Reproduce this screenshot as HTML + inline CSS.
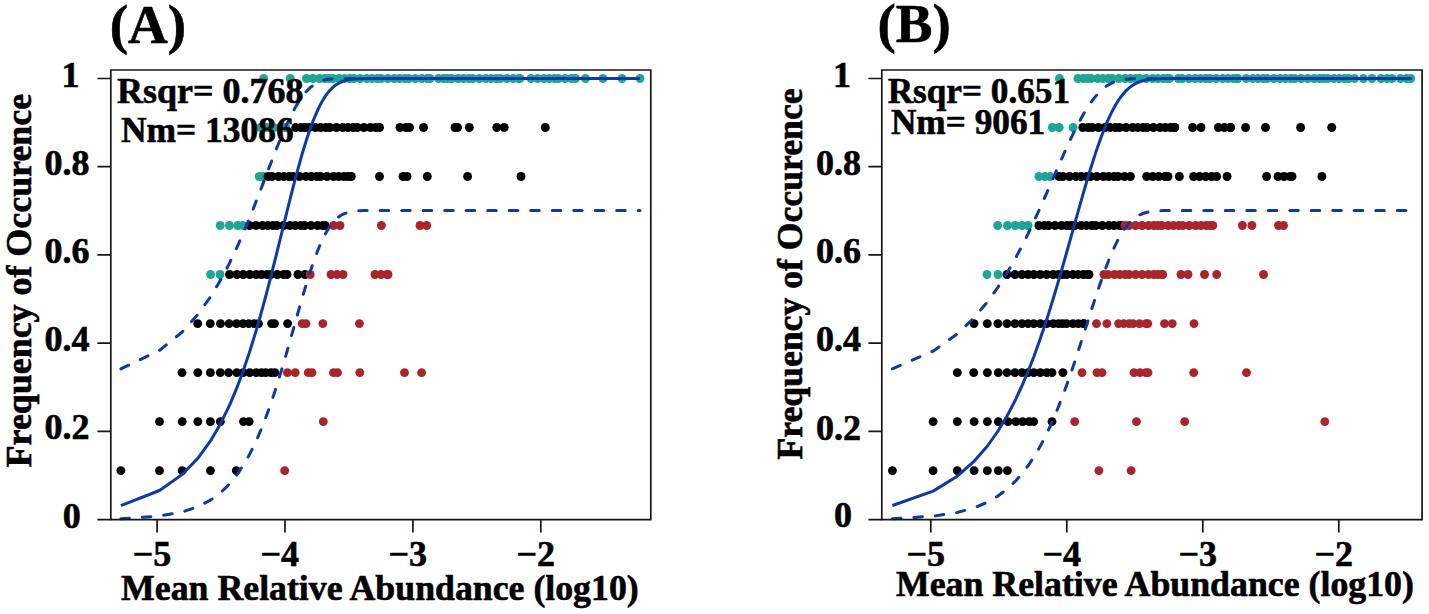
<!DOCTYPE html>
<html><head><meta charset="utf-8"><style>
html,body{margin:0;padding:0;background:#fff;overflow:hidden}
svg{display:block}
</style></head><body>
<svg width="1429" height="614" viewBox="0 0 1429 614">
<rect width="1429" height="614" fill="#fff"/>
<g fill="#1fa596"><circle cx="263.6" cy="78.5" r="4.45"/><circle cx="290.2" cy="78.5" r="4.45"/><circle cx="306.5" cy="78.5" r="4.45"/><circle cx="313.0" cy="78.5" r="4.45"/><circle cx="319.5" cy="78.5" r="4.45"/><circle cx="324.8" cy="78.5" r="4.45"/><circle cx="328.8" cy="78.5" r="4.45"/><circle cx="332.8" cy="78.5" r="4.45"/><circle cx="339.2" cy="78.5" r="4.45"/><circle cx="344.5" cy="78.5" r="4.45"/><circle cx="349.8" cy="78.5" r="4.45"/><circle cx="353.8" cy="78.5" r="4.45"/><circle cx="360.2" cy="78.5" r="4.45"/><circle cx="366.8" cy="78.5" r="4.45"/><circle cx="372.0" cy="78.5" r="4.45"/><circle cx="377.2" cy="78.5" r="4.45"/><circle cx="381.2" cy="78.5" r="4.45"/><circle cx="387.8" cy="78.5" r="4.45"/><circle cx="394.2" cy="78.5" r="4.45"/><circle cx="399.5" cy="78.5" r="4.45"/><circle cx="404.8" cy="78.5" r="4.45"/><circle cx="408.8" cy="78.5" r="4.45"/><circle cx="415.2" cy="78.5" r="4.45"/><circle cx="421.8" cy="78.5" r="4.45"/><circle cx="427.0" cy="78.5" r="4.45"/><circle cx="430.0" cy="78.5" r="4.45"/><circle cx="438.5" cy="78.5" r="4.45"/><circle cx="443.8" cy="78.5" r="4.45"/><circle cx="447.8" cy="78.5" r="4.45"/><circle cx="451.8" cy="78.5" r="4.45"/><circle cx="458.2" cy="78.5" r="4.45"/><circle cx="463.5" cy="78.5" r="4.45"/><circle cx="468.8" cy="78.5" r="4.45"/><circle cx="472.8" cy="78.5" r="4.45"/><circle cx="479.2" cy="78.5" r="4.45"/><circle cx="485.8" cy="78.5" r="4.45"/><circle cx="491.0" cy="78.5" r="4.45"/><circle cx="496.2" cy="78.5" r="4.45"/><circle cx="500.2" cy="78.5" r="4.45"/><circle cx="506.8" cy="78.5" r="4.45"/><circle cx="513.2" cy="78.5" r="4.45"/><circle cx="518.5" cy="78.5" r="4.45"/><circle cx="520.0" cy="78.5" r="4.45"/><circle cx="531.0" cy="78.5" r="4.45"/><circle cx="537.5" cy="78.5" r="4.45"/><circle cx="544.0" cy="78.5" r="4.45"/><circle cx="549.2" cy="78.5" r="4.45"/><circle cx="554.5" cy="78.5" r="4.45"/><circle cx="558.5" cy="78.5" r="4.45"/><circle cx="565.0" cy="78.5" r="4.45"/><circle cx="571.5" cy="78.5" r="4.45"/><circle cx="575.5" cy="78.5" r="4.45"/><circle cx="585.5" cy="78.5" r="4.45"/><circle cx="603.0" cy="78.5" r="4.45"/><circle cx="622.0" cy="78.5" r="4.45"/><circle cx="640.0" cy="78.5" r="4.45"/><circle cx="260.6" cy="127.5" r="4.45"/><circle cx="267.1" cy="127.5" r="4.45"/><circle cx="273.6" cy="127.5" r="4.45"/><circle cx="280.1" cy="127.5" r="4.45"/><circle cx="285.4" cy="127.5" r="4.45"/><circle cx="285.8" cy="127.5" r="4.45"/><circle cx="259.2" cy="176.5" r="4.45"/><circle cx="263.0" cy="176.5" r="4.45"/><circle cx="220.2" cy="225.5" r="4.45"/><circle cx="229.4" cy="225.5" r="4.45"/><circle cx="237.8" cy="225.5" r="4.45"/><circle cx="242.8" cy="225.5" r="4.45"/><circle cx="210.6" cy="274.5" r="4.45"/><circle cx="220.0" cy="274.5" r="4.45"/></g>
<g fill="#000000"><circle cx="295.7" cy="127.5" r="4.45"/><circle cx="300.9" cy="127.5" r="4.45"/><circle cx="304.9" cy="127.5" r="4.45"/><circle cx="308.9" cy="127.5" r="4.45"/><circle cx="315.4" cy="127.5" r="4.45"/><circle cx="320.7" cy="127.5" r="4.45"/><circle cx="325.9" cy="127.5" r="4.45"/><circle cx="329.9" cy="127.5" r="4.45"/><circle cx="336.4" cy="127.5" r="4.45"/><circle cx="342.9" cy="127.5" r="4.45"/><circle cx="348.2" cy="127.5" r="4.45"/><circle cx="353.4" cy="127.5" r="4.45"/><circle cx="357.4" cy="127.5" r="4.45"/><circle cx="363.9" cy="127.5" r="4.45"/><circle cx="370.4" cy="127.5" r="4.45"/><circle cx="375.7" cy="127.5" r="4.45"/><circle cx="379.5" cy="127.5" r="4.45"/><circle cx="400.0" cy="127.5" r="4.45"/><circle cx="406.0" cy="127.5" r="4.45"/><circle cx="409.5" cy="127.5" r="4.45"/><circle cx="423.5" cy="127.5" r="4.45"/><circle cx="455.0" cy="127.5" r="4.45"/><circle cx="457.5" cy="127.5" r="4.45"/><circle cx="469.3" cy="127.5" r="4.45"/><circle cx="496.8" cy="127.5" r="4.45"/><circle cx="504.2" cy="127.5" r="4.45"/><circle cx="545.3" cy="127.5" r="4.45"/><circle cx="268.0" cy="176.5" r="4.45"/><circle cx="272.0" cy="176.5" r="4.45"/><circle cx="278.5" cy="176.5" r="4.45"/><circle cx="283.8" cy="176.5" r="4.45"/><circle cx="289.0" cy="176.5" r="4.45"/><circle cx="293.0" cy="176.5" r="4.45"/><circle cx="299.5" cy="176.5" r="4.45"/><circle cx="306.0" cy="176.5" r="4.45"/><circle cx="311.2" cy="176.5" r="4.45"/><circle cx="316.5" cy="176.5" r="4.45"/><circle cx="320.5" cy="176.5" r="4.45"/><circle cx="327.0" cy="176.5" r="4.45"/><circle cx="333.5" cy="176.5" r="4.45"/><circle cx="338.8" cy="176.5" r="4.45"/><circle cx="344.0" cy="176.5" r="4.45"/><circle cx="348.0" cy="176.5" r="4.45"/><circle cx="351.3" cy="176.5" r="4.45"/><circle cx="379.5" cy="176.5" r="4.45"/><circle cx="403.0" cy="176.5" r="4.45"/><circle cx="407.0" cy="176.5" r="4.45"/><circle cx="427.3" cy="176.5" r="4.45"/><circle cx="467.6" cy="176.5" r="4.45"/><circle cx="521.0" cy="176.5" r="4.45"/><circle cx="249.5" cy="225.5" r="4.45"/><circle cx="256.0" cy="225.5" r="4.45"/><circle cx="262.5" cy="225.5" r="4.45"/><circle cx="267.8" cy="225.5" r="4.45"/><circle cx="273.0" cy="225.5" r="4.45"/><circle cx="277.0" cy="225.5" r="4.45"/><circle cx="283.5" cy="225.5" r="4.45"/><circle cx="290.0" cy="225.5" r="4.45"/><circle cx="295.2" cy="225.5" r="4.45"/><circle cx="300.5" cy="225.5" r="4.45"/><circle cx="304.5" cy="225.5" r="4.45"/><circle cx="311.0" cy="225.5" r="4.45"/><circle cx="317.5" cy="225.5" r="4.45"/><circle cx="322.8" cy="225.5" r="4.45"/><circle cx="325.0" cy="225.5" r="4.45"/><circle cx="229.5" cy="274.5" r="4.45"/><circle cx="236.9" cy="274.5" r="4.45"/><circle cx="243.3" cy="274.5" r="4.45"/><circle cx="249.8" cy="274.5" r="4.45"/><circle cx="256.3" cy="274.5" r="4.45"/><circle cx="261.6" cy="274.5" r="4.45"/><circle cx="266.8" cy="274.5" r="4.45"/><circle cx="270.8" cy="274.5" r="4.45"/><circle cx="277.3" cy="274.5" r="4.45"/><circle cx="283.8" cy="274.5" r="4.45"/><circle cx="287.0" cy="274.5" r="4.45"/><circle cx="298.0" cy="274.5" r="4.45"/><circle cx="305.0" cy="274.5" r="4.45"/><circle cx="197.7" cy="323.6" r="4.45"/><circle cx="210.3" cy="323.6" r="4.45"/><circle cx="220.5" cy="323.6" r="4.45"/><circle cx="229.1" cy="323.6" r="4.45"/><circle cx="236.5" cy="323.6" r="4.45"/><circle cx="243.0" cy="323.6" r="4.45"/><circle cx="248.8" cy="323.6" r="4.45"/><circle cx="254.1" cy="323.6" r="4.45"/><circle cx="258.5" cy="323.6" r="4.45"/><circle cx="271.6" cy="323.6" r="4.45"/><circle cx="274.5" cy="323.6" r="4.45"/><circle cx="287.6" cy="323.6" r="4.45"/><circle cx="182.0" cy="372.6" r="4.45"/><circle cx="197.8" cy="372.6" r="4.45"/><circle cx="210.4" cy="372.6" r="4.45"/><circle cx="220.3" cy="372.6" r="4.45"/><circle cx="228.6" cy="372.6" r="4.45"/><circle cx="236.8" cy="372.6" r="4.45"/><circle cx="243.3" cy="372.6" r="4.45"/><circle cx="249.8" cy="372.6" r="4.45"/><circle cx="256.3" cy="372.6" r="4.45"/><circle cx="261.5" cy="372.6" r="4.45"/><circle cx="265.8" cy="372.6" r="4.45"/><circle cx="271.0" cy="372.6" r="4.45"/><circle cx="274.8" cy="372.6" r="4.45"/><circle cx="159.5" cy="421.6" r="4.45"/><circle cx="182.2" cy="421.6" r="4.45"/><circle cx="197.8" cy="421.6" r="4.45"/><circle cx="210.4" cy="421.6" r="4.45"/><circle cx="220.3" cy="421.6" r="4.45"/><circle cx="243.5" cy="421.6" r="4.45"/><circle cx="249.1" cy="421.6" r="4.45"/><circle cx="120.9" cy="470.6" r="4.45"/><circle cx="159.5" cy="470.6" r="4.45"/><circle cx="182.2" cy="470.6" r="4.45"/><circle cx="210.4" cy="470.6" r="4.45"/><circle cx="236.3" cy="470.6" r="4.45"/></g>
<g fill="#a8252b"><circle cx="333.5" cy="225.5" r="4.45"/><circle cx="340.0" cy="225.5" r="4.45"/><circle cx="381.4" cy="225.5" r="4.45"/><circle cx="420.0" cy="225.5" r="4.45"/><circle cx="426.7" cy="225.5" r="4.45"/><circle cx="310.2" cy="274.5" r="4.45"/><circle cx="331.0" cy="274.5" r="4.45"/><circle cx="337.0" cy="274.5" r="4.45"/><circle cx="343.0" cy="274.5" r="4.45"/><circle cx="375.0" cy="274.5" r="4.45"/><circle cx="381.0" cy="274.5" r="4.45"/><circle cx="387.0" cy="274.5" r="4.45"/><circle cx="388.0" cy="274.5" r="4.45"/><circle cx="302.2" cy="323.6" r="4.45"/><circle cx="306.0" cy="323.6" r="4.45"/><circle cx="322.8" cy="323.6" r="4.45"/><circle cx="359.4" cy="323.6" r="4.45"/><circle cx="287.4" cy="372.6" r="4.45"/><circle cx="295.2" cy="372.6" r="4.45"/><circle cx="308.3" cy="372.6" r="4.45"/><circle cx="312.0" cy="372.6" r="4.45"/><circle cx="333.5" cy="372.6" r="4.45"/><circle cx="337.5" cy="372.6" r="4.45"/><circle cx="359.8" cy="372.6" r="4.45"/><circle cx="404.5" cy="372.6" r="4.45"/><circle cx="421.6" cy="372.6" r="4.45"/><circle cx="323.3" cy="421.6" r="4.45"/><circle cx="284.7" cy="470.6" r="4.45"/></g>
<path d="M120.9,505.6 L159.5,490.5 L182.0,474.6 L182.2,474.5 L197.7,458.4 L197.8,458.3 L210.3,441.2 L210.4,441.0 L210.6,440.7 L220.0,424.7 L220.2,424.3 L220.3,424.1 L220.5,423.7 L228.6,407.2 L229.1,406.1 L229.4,405.5 L229.5,405.3 L236.3,389.1 L236.5,388.6 L236.8,387.9 L236.9,387.6 L237.8,385.3 L242.8,371.9 L243.0,371.3 L243.3,370.5 L243.5,369.9 L248.8,354.3 L249.1,353.4 L249.5,352.1 L249.8,351.2 L254.1,337.4 L256.0,331.1 L256.3,330.1 L258.5,322.5 L259.2,320.0 L260.6,315.1 L261.5,311.8 L261.6,311.5 L262.5,308.2 L263.0,306.4 L263.6,304.2 L265.8,296.0 L266.8,292.2 L267.1,291.0 L267.8,288.4 L268.0,287.6 L270.8,276.8 L271.0,276.0 L271.6,273.6 L272.0,272.0 L273.0,268.1 L273.6,265.7 L274.5,262.1 L274.8,260.9 L277.0,252.1 L277.3,250.9 L278.5,246.0 L280.1,239.5 L283.5,225.7 L283.8,224.4 L284.7,220.8 L285.4,218.0 L285.8,216.3 L287.0,211.5 L287.4,209.9 L287.6,209.1 L289.0,203.5 L290.0,199.5 L290.2,198.7 L293.0,187.7 L295.2,179.2 L295.7,177.3 L298.0,168.8 L299.5,163.3 L300.5,159.8 L300.9,158.4 L302.2,153.9 L304.5,146.2 L304.9,144.9 L305.0,144.6 L306.0,141.4 L306.5,139.8 L308.3,134.3 L308.9,132.6 L310.2,128.8 L311.0,126.6 L311.2,126.0 L312.0,123.9 L313.0,121.3 L315.4,115.3 L316.5,112.8 L317.5,110.5 L319.5,106.4 L320.5,104.4 L320.7,104.0 L322.8,100.3 L323.3,99.4 L324.8,97.1 L325.0,96.7 L325.9,95.4 L327.0,93.9 L328.8,91.6 L329.9,90.3 L331.0,89.2 L332.8,87.4 L333.5,86.8 L336.4,84.6 L337.0,84.2 L337.5,83.9 L338.8,83.1 L339.2,82.9 L340.0,82.5 L342.9,81.3 L343.0,81.2 L344.0,80.9 L344.5,80.7 L348.0,79.9 L348.2,79.8 L349.8,79.5 L351.3,79.3 L353.4,79.1 L353.8,79.0 L357.4,78.8 L359.4,78.7 L359.8,78.7 L360.2,78.7 L363.9,78.6 L366.8,78.5 L370.4,78.5 L372.0,78.5 L375.0,78.5 L375.7,78.5 L377.2,78.5 L379.5,78.5 L381.0,78.5 L381.2,78.5 L381.4,78.5 L387.0,78.5 L387.8,78.5 L388.0,78.5 L394.2,78.5 L399.5,78.5 L400.0,78.5 L403.0,78.5 L404.5,78.5 L404.8,78.5 L406.0,78.5 L407.0,78.5 L408.8,78.5 L409.5,78.5 L415.2,78.5 L420.0,78.5 L421.6,78.5 L421.8,78.5 L423.5,78.5 L426.7,78.5 L427.0,78.5 L427.3,78.5 L430.0,78.5 L438.5,78.5 L443.8,78.5 L447.8,78.5 L451.8,78.5 L455.0,78.5 L457.5,78.5 L458.2,78.5 L463.5,78.5 L467.6,78.5 L468.8,78.5 L469.3,78.5 L472.8,78.5 L479.2,78.5 L485.8,78.5 L491.0,78.5 L496.2,78.5 L496.8,78.5 L500.2,78.5 L504.2,78.5 L506.8,78.5 L513.2,78.5 L518.5,78.5 L520.0,78.5 L521.0,78.5 L531.0,78.5 L537.5,78.5 L544.0,78.5 L545.3,78.5 L549.2,78.5 L554.5,78.5 L558.5,78.5 L565.0,78.5 L571.5,78.5 L575.5,78.5 L585.5,78.5 L603.0,78.5 L622.0,78.5 L640.0,78.5" fill="none" stroke="#0d3aa6" stroke-width="3.0" stroke-linejoin="round"/>
<path d="M120.9,518.7 L159.5,516.1 L182.0,512.0 L182.2,512.0 L197.7,506.8 L197.8,506.8 L210.3,500.2 L210.4,500.2 L210.6,500.0 L220.0,493.1 L220.2,493.0 L220.3,492.9 L220.5,492.7 L228.6,484.9 L229.1,484.3 L229.4,484.0 L229.5,483.9 L236.3,475.6 L236.5,475.3 L236.8,474.9 L236.9,474.7 L237.8,473.5 L242.8,466.0 L243.0,465.7 L243.3,465.2 L243.5,464.9 L248.8,455.7 L249.1,455.2 L249.5,454.4 L249.8,453.8 L254.1,445.3 L256.0,441.2 L256.3,440.6 L258.5,435.6 L259.2,434.0 L260.6,430.7 L261.5,428.5 L261.6,428.2 L262.5,426.0 L263.0,424.8 L263.6,423.2 L265.8,417.5 L266.8,414.8 L267.1,414.0 L267.8,412.1 L268.0,411.5 L270.8,403.6 L271.0,403.0 L271.6,401.3 L272.0,400.1 L273.0,397.1 L273.6,395.3 L274.5,392.6 L274.8,391.7 L277.0,384.8 L277.3,383.9 L278.5,380.0 L280.1,374.8 L283.5,363.5 L283.8,362.5 L284.7,359.4 L285.4,357.0 L285.8,355.6 L287.0,351.5 L287.4,350.1 L287.6,349.4 L289.0,344.5 L290.0,340.9 L290.2,340.2 L293.0,330.3 L295.2,322.5 L295.7,320.7 L298.0,312.6 L299.5,307.3 L300.5,303.9 L300.9,302.5 L302.2,298.0 L304.5,290.2 L304.9,288.8 L305.0,288.5 L306.0,285.2 L306.5,283.5 L308.3,277.7 L308.9,275.8 L310.2,271.8 L311.0,269.4 L311.2,268.8 L312.0,266.4 L313.0,263.5 L315.4,256.7 L316.5,253.8 L317.5,251.2 L319.5,246.3 L320.5,243.9 L320.7,243.5 L322.8,238.9 L323.3,237.9 L324.8,234.9 L325.0,234.5 L325.9,232.9 L327.0,231.0 L328.8,228.0 L329.9,226.4 L331.0,224.9 L332.8,222.6 L333.5,221.8 L336.4,218.8 L337.0,218.3 L337.5,217.9 L338.8,216.8 L339.2,216.5 L340.0,216.0 L342.9,214.3 L343.0,214.3 L344.0,213.8 L344.5,213.6 L348.0,212.3 L348.2,212.3 L349.8,211.9 L351.3,211.6 L353.4,211.3 L353.8,211.2 L357.4,210.8 L359.4,210.7 L359.8,210.7 L360.2,210.7 L363.9,210.6 L366.8,210.5 L370.4,210.5 L372.0,210.5 L375.0,210.5 L375.7,210.5 L377.2,210.5 L379.5,210.5 L381.0,210.5 L381.2,210.5 L381.4,210.5 L387.0,210.5 L387.8,210.5 L388.0,210.5 L394.2,210.5 L399.5,210.5 L400.0,210.5 L403.0,210.5 L404.5,210.5 L404.8,210.5 L406.0,210.5 L407.0,210.5 L408.8,210.5 L409.5,210.5 L415.2,210.5 L420.0,210.5 L421.6,210.5 L421.8,210.5 L423.5,210.5 L426.7,210.5 L427.0,210.5 L427.3,210.5 L430.0,210.5 L438.5,210.5 L443.8,210.5 L447.8,210.5 L451.8,210.5 L455.0,210.5 L457.5,210.5 L458.2,210.5 L463.5,210.5 L467.6,210.5 L468.8,210.5 L469.3,210.5 L472.8,210.5 L479.2,210.5 L485.8,210.5 L491.0,210.5 L496.2,210.5 L496.8,210.5 L500.2,210.5 L504.2,210.5 L506.8,210.5 L513.2,210.5 L518.5,210.5 L520.0,210.5 L521.0,210.5 L531.0,210.5 L537.5,210.5 L544.0,210.5 L545.3,210.5 L549.2,210.5 L554.5,210.5 L558.5,210.5 L565.0,210.5 L571.5,210.5 L575.5,210.5 L585.5,210.5 L603.0,210.5 L622.0,210.5 L640.0,210.5" fill="none" stroke="#0d3aa6" stroke-width="3.0" stroke-dasharray="8.5 13" stroke-linecap="round"/>
<path d="M120.9,368.9 L159.5,350.4 L182.0,332.2 L182.2,332.0 L197.7,314.7 L197.8,314.6 L210.3,297.1 L210.4,296.9 L210.6,296.6 L220.0,281.1 L220.2,280.7 L220.3,280.5 L220.5,280.2 L228.6,264.9 L229.1,263.9 L229.4,263.3 L229.5,263.1 L236.3,248.8 L236.5,248.4 L236.8,247.7 L236.9,247.5 L237.8,245.5 L242.8,234.2 L243.0,233.7 L243.3,233.0 L243.5,232.5 L248.8,219.8 L249.1,219.1 L249.5,218.1 L249.8,217.4 L254.1,206.6 L256.0,201.8 L256.3,201.0 L258.5,195.3 L259.2,193.5 L260.6,189.9 L261.5,187.5 L261.6,187.3 L262.5,184.9 L263.0,183.6 L263.6,182.0 L265.8,176.3 L266.8,173.7 L267.1,172.9 L267.8,171.0 L268.0,170.5 L270.8,163.2 L271.0,162.7 L271.6,161.2 L272.0,160.1 L273.0,157.6 L273.6,156.0 L274.5,153.7 L274.8,153.0 L277.0,147.4 L277.3,146.7 L278.5,143.7 L280.1,139.8 L283.5,131.8 L283.8,131.1 L284.7,129.0 L285.4,127.4 L285.8,126.5 L287.0,123.9 L287.4,123.0 L287.6,122.6 L289.0,119.6 L290.0,117.6 L290.2,117.2 L293.0,111.7 L295.2,107.6 L295.7,106.8 L298.0,102.9 L299.5,100.5 L300.5,99.1 L300.9,98.5 L302.2,96.6 L304.5,93.7 L304.9,93.2 L305.0,93.1 L306.0,91.9 L306.5,91.3 L308.3,89.5 L308.9,88.9 L310.2,87.7 L311.0,87.0 L311.2,86.8 L312.0,86.2 L313.0,85.4 L315.4,83.8 L316.5,83.2 L317.5,82.7 L319.5,81.7 L320.5,81.3 L320.7,81.3 L322.8,80.6 L323.3,80.4 L324.8,80.0 L325.0,80.0 L325.9,79.8 L327.0,79.6 L328.8,79.3 L329.9,79.2 L331.0,79.0 L332.8,78.9 L333.5,78.8 L336.4,78.7 L337.0,78.7 L337.5,78.6 L338.8,78.6 L339.2,78.6 L340.0,78.6 L342.9,78.5 L343.0,78.5 L344.0,78.5 L344.5,78.5 L348.0,78.5 L348.2,78.5 L349.8,78.5 L351.3,78.5 L353.4,78.5 L353.8,78.5 L357.4,78.5 L359.4,78.5 L359.8,78.5 L360.2,78.5 L363.9,78.5 L366.8,78.5 L370.4,78.5 L372.0,78.5 L375.0,78.5 L375.7,78.5 L377.2,78.5 L379.5,78.5 L381.0,78.5 L381.2,78.5 L381.4,78.5 L387.0,78.5 L387.8,78.5 L388.0,78.5 L394.2,78.5 L399.5,78.5 L400.0,78.5 L403.0,78.5 L404.5,78.5 L404.8,78.5 L406.0,78.5 L407.0,78.5 L408.8,78.5 L409.5,78.5 L415.2,78.5 L420.0,78.5 L421.6,78.5 L421.8,78.5 L423.5,78.5 L426.7,78.5 L427.0,78.5 L427.3,78.5 L430.0,78.5 L438.5,78.5 L443.8,78.5 L447.8,78.5 L451.8,78.5 L455.0,78.5 L457.5,78.5 L458.2,78.5 L463.5,78.5 L467.6,78.5 L468.8,78.5 L469.3,78.5 L472.8,78.5 L479.2,78.5 L485.8,78.5 L491.0,78.5 L496.2,78.5 L496.8,78.5 L500.2,78.5 L504.2,78.5 L506.8,78.5 L513.2,78.5 L518.5,78.5 L520.0,78.5 L521.0,78.5 L531.0,78.5 L537.5,78.5 L544.0,78.5 L545.3,78.5 L549.2,78.5 L554.5,78.5 L558.5,78.5 L565.0,78.5 L571.5,78.5 L575.5,78.5 L585.5,78.5 L603.0,78.5 L622.0,78.5 L640.0,78.5" fill="none" stroke="#0d3aa6" stroke-width="3.0" stroke-dasharray="8.5 13" stroke-linecap="round"/>
<path d="M110.8,70 H650.8 V519.6 H110.8 Z" fill="none" stroke="#151515" stroke-width="1.7"/>
<path d="M97.39999999999999,519.6 H110.8 M97.39999999999999,431.4 H110.8 M97.39999999999999,343.2 H110.8 M97.39999999999999,254.9 H110.8 M97.39999999999999,166.7 H110.8 M97.39999999999999,78.5 H110.8 M157.1,519.6 V532.6 M285.0,519.6 V532.6 M412.9,519.6 V532.6 M540.8,519.6 V532.6 " stroke="#151515" stroke-width="1.7" fill="none"/>
<g fill="#1fa596"><circle cx="1059.4" cy="78.5" r="4.45"/><circle cx="1077.9" cy="78.5" r="4.45"/><circle cx="1083.2" cy="78.5" r="4.45"/><circle cx="1087.2" cy="78.5" r="4.45"/><circle cx="1091.2" cy="78.5" r="4.45"/><circle cx="1097.7" cy="78.5" r="4.45"/><circle cx="1102.9" cy="78.5" r="4.45"/><circle cx="1108.2" cy="78.5" r="4.45"/><circle cx="1112.2" cy="78.5" r="4.45"/><circle cx="1118.7" cy="78.5" r="4.45"/><circle cx="1125.2" cy="78.5" r="4.45"/><circle cx="1130.4" cy="78.5" r="4.45"/><circle cx="1135.7" cy="78.5" r="4.45"/><circle cx="1139.7" cy="78.5" r="4.45"/><circle cx="1146.2" cy="78.5" r="4.45"/><circle cx="1152.7" cy="78.5" r="4.45"/><circle cx="1157.9" cy="78.5" r="4.45"/><circle cx="1163.2" cy="78.5" r="4.45"/><circle cx="1167.2" cy="78.5" r="4.45"/><circle cx="1169.5" cy="78.5" r="4.45"/><circle cx="1178.3" cy="78.5" r="4.45"/><circle cx="1182.3" cy="78.5" r="4.45"/><circle cx="1188.8" cy="78.5" r="4.45"/><circle cx="1195.3" cy="78.5" r="4.45"/><circle cx="1200.5" cy="78.5" r="4.45"/><circle cx="1205.8" cy="78.5" r="4.45"/><circle cx="1209.8" cy="78.5" r="4.45"/><circle cx="1216.3" cy="78.5" r="4.45"/><circle cx="1222.8" cy="78.5" r="4.45"/><circle cx="1228.0" cy="78.5" r="4.45"/><circle cx="1233.3" cy="78.5" r="4.45"/><circle cx="1237.3" cy="78.5" r="4.45"/><circle cx="1237.5" cy="78.5" r="4.45"/><circle cx="1246.3" cy="78.5" r="4.45"/><circle cx="1252.8" cy="78.5" r="4.45"/><circle cx="1258.0" cy="78.5" r="4.45"/><circle cx="1263.3" cy="78.5" r="4.45"/><circle cx="1267.3" cy="78.5" r="4.45"/><circle cx="1273.8" cy="78.5" r="4.45"/><circle cx="1280.3" cy="78.5" r="4.45"/><circle cx="1285.5" cy="78.5" r="4.45"/><circle cx="1290.8" cy="78.5" r="4.45"/><circle cx="1294.8" cy="78.5" r="4.45"/><circle cx="1301.3" cy="78.5" r="4.45"/><circle cx="1307.8" cy="78.5" r="4.45"/><circle cx="1314.3" cy="78.5" r="4.45"/><circle cx="1319.5" cy="78.5" r="4.45"/><circle cx="1323.5" cy="78.5" r="4.45"/><circle cx="1327.5" cy="78.5" r="4.45"/><circle cx="1334.0" cy="78.5" r="4.45"/><circle cx="1339.3" cy="78.5" r="4.45"/><circle cx="1344.5" cy="78.5" r="4.45"/><circle cx="1348.5" cy="78.5" r="4.45"/><circle cx="1354.5" cy="78.5" r="4.45"/><circle cx="1363.5" cy="78.5" r="4.45"/><circle cx="1372.0" cy="78.5" r="4.45"/><circle cx="1381.0" cy="78.5" r="4.45"/><circle cx="1387.0" cy="78.5" r="4.45"/><circle cx="1392.0" cy="78.5" r="4.45"/><circle cx="1400.5" cy="78.5" r="4.45"/><circle cx="1406.5" cy="78.5" r="4.45"/><circle cx="1410.7" cy="78.5" r="4.45"/><circle cx="1052.4" cy="127.5" r="4.45"/><circle cx="1059.2" cy="127.5" r="4.45"/><circle cx="1073.1" cy="127.5" r="4.45"/><circle cx="1038.9" cy="176.5" r="4.45"/><circle cx="1044.9" cy="176.5" r="4.45"/><circle cx="1050.0" cy="176.5" r="4.45"/><circle cx="997.7" cy="225.5" r="4.45"/><circle cx="1007.4" cy="225.5" r="4.45"/><circle cx="1015.3" cy="225.5" r="4.45"/><circle cx="1022.2" cy="225.5" r="4.45"/><circle cx="1028.0" cy="225.5" r="4.45"/><circle cx="987.0" cy="274.5" r="4.45"/><circle cx="998.0" cy="274.5" r="4.45"/></g>
<g fill="#000000"><circle cx="1082.8" cy="127.5" r="4.45"/><circle cx="1088.0" cy="127.5" r="4.45"/><circle cx="1092.0" cy="127.5" r="4.45"/><circle cx="1098.5" cy="127.5" r="4.45"/><circle cx="1105.0" cy="127.5" r="4.45"/><circle cx="1110.3" cy="127.5" r="4.45"/><circle cx="1115.5" cy="127.5" r="4.45"/><circle cx="1119.5" cy="127.5" r="4.45"/><circle cx="1126.0" cy="127.5" r="4.45"/><circle cx="1132.5" cy="127.5" r="4.45"/><circle cx="1137.8" cy="127.5" r="4.45"/><circle cx="1143.0" cy="127.5" r="4.45"/><circle cx="1147.0" cy="127.5" r="4.45"/><circle cx="1153.5" cy="127.5" r="4.45"/><circle cx="1160.0" cy="127.5" r="4.45"/><circle cx="1165.3" cy="127.5" r="4.45"/><circle cx="1170.5" cy="127.5" r="4.45"/><circle cx="1174.5" cy="127.5" r="4.45"/><circle cx="1174.7" cy="127.5" r="4.45"/><circle cx="1192.6" cy="127.5" r="4.45"/><circle cx="1201.0" cy="127.5" r="4.45"/><circle cx="1218.4" cy="127.5" r="4.45"/><circle cx="1224.4" cy="127.5" r="4.45"/><circle cx="1230.4" cy="127.5" r="4.45"/><circle cx="1230.5" cy="127.5" r="4.45"/><circle cx="1245.6" cy="127.5" r="4.45"/><circle cx="1265.5" cy="127.5" r="4.45"/><circle cx="1300.6" cy="127.5" r="4.45"/><circle cx="1331.7" cy="127.5" r="4.45"/><circle cx="1058.9" cy="176.5" r="4.45"/><circle cx="1062.9" cy="176.5" r="4.45"/><circle cx="1069.4" cy="176.5" r="4.45"/><circle cx="1075.9" cy="176.5" r="4.45"/><circle cx="1081.2" cy="176.5" r="4.45"/><circle cx="1086.4" cy="176.5" r="4.45"/><circle cx="1090.4" cy="176.5" r="4.45"/><circle cx="1096.9" cy="176.5" r="4.45"/><circle cx="1103.4" cy="176.5" r="4.45"/><circle cx="1108.7" cy="176.5" r="4.45"/><circle cx="1113.9" cy="176.5" r="4.45"/><circle cx="1117.9" cy="176.5" r="4.45"/><circle cx="1124.4" cy="176.5" r="4.45"/><circle cx="1130.4" cy="176.5" r="4.45"/><circle cx="1146.7" cy="176.5" r="4.45"/><circle cx="1152.7" cy="176.5" r="4.45"/><circle cx="1158.7" cy="176.5" r="4.45"/><circle cx="1164.7" cy="176.5" r="4.45"/><circle cx="1168.0" cy="176.5" r="4.45"/><circle cx="1179.4" cy="176.5" r="4.45"/><circle cx="1193.6" cy="176.5" r="4.45"/><circle cx="1199.6" cy="176.5" r="4.45"/><circle cx="1205.6" cy="176.5" r="4.45"/><circle cx="1211.6" cy="176.5" r="4.45"/><circle cx="1216.6" cy="176.5" r="4.45"/><circle cx="1227.1" cy="176.5" r="4.45"/><circle cx="1266.6" cy="176.5" r="4.45"/><circle cx="1278.0" cy="176.5" r="4.45"/><circle cx="1284.0" cy="176.5" r="4.45"/><circle cx="1290.0" cy="176.5" r="4.45"/><circle cx="1292.0" cy="176.5" r="4.45"/><circle cx="1321.9" cy="176.5" r="4.45"/><circle cx="1038.9" cy="225.5" r="4.45"/><circle cx="1044.2" cy="225.5" r="4.45"/><circle cx="1048.5" cy="225.5" r="4.45"/><circle cx="1055.0" cy="225.5" r="4.45"/><circle cx="1061.5" cy="225.5" r="4.45"/><circle cx="1066.8" cy="225.5" r="4.45"/><circle cx="1070.8" cy="225.5" r="4.45"/><circle cx="1074.8" cy="225.5" r="4.45"/><circle cx="1081.3" cy="225.5" r="4.45"/><circle cx="1086.5" cy="225.5" r="4.45"/><circle cx="1091.8" cy="225.5" r="4.45"/><circle cx="1095.8" cy="225.5" r="4.45"/><circle cx="1102.3" cy="225.5" r="4.45"/><circle cx="1108.8" cy="225.5" r="4.45"/><circle cx="1114.0" cy="225.5" r="4.45"/><circle cx="1119.3" cy="225.5" r="4.45"/><circle cx="1121.0" cy="225.5" r="4.45"/><circle cx="1007.0" cy="274.5" r="4.45"/><circle cx="1014.9" cy="274.5" r="4.45"/><circle cx="1021.9" cy="274.5" r="4.45"/><circle cx="1028.1" cy="274.5" r="4.45"/><circle cx="1033.8" cy="274.5" r="4.45"/><circle cx="1040.3" cy="274.5" r="4.45"/><circle cx="1046.8" cy="274.5" r="4.45"/><circle cx="1053.3" cy="274.5" r="4.45"/><circle cx="1058.5" cy="274.5" r="4.45"/><circle cx="1062.5" cy="274.5" r="4.45"/><circle cx="1066.5" cy="274.5" r="4.45"/><circle cx="1073.0" cy="274.5" r="4.45"/><circle cx="1078.3" cy="274.5" r="4.45"/><circle cx="1083.5" cy="274.5" r="4.45"/><circle cx="1087.5" cy="274.5" r="4.45"/><circle cx="1089.0" cy="274.5" r="4.45"/><circle cx="974.0" cy="323.6" r="4.45"/><circle cx="987.3" cy="323.6" r="4.45"/><circle cx="997.9" cy="323.6" r="4.45"/><circle cx="1007.0" cy="323.6" r="4.45"/><circle cx="1014.9" cy="323.6" r="4.45"/><circle cx="1021.9" cy="323.6" r="4.45"/><circle cx="1028.1" cy="323.6" r="4.45"/><circle cx="1033.8" cy="323.6" r="4.45"/><circle cx="1040.3" cy="323.6" r="4.45"/><circle cx="1046.8" cy="323.6" r="4.45"/><circle cx="1053.3" cy="323.6" r="4.45"/><circle cx="1058.5" cy="323.6" r="4.45"/><circle cx="1062.5" cy="323.6" r="4.45"/><circle cx="1066.5" cy="323.6" r="4.45"/><circle cx="1073.0" cy="323.6" r="4.45"/><circle cx="1078.3" cy="323.6" r="4.45"/><circle cx="1083.5" cy="323.6" r="4.45"/><circle cx="1084.0" cy="323.6" r="4.45"/><circle cx="957.3" cy="372.6" r="4.45"/><circle cx="973.7" cy="372.6" r="4.45"/><circle cx="987.4" cy="372.6" r="4.45"/><circle cx="998.3" cy="372.6" r="4.45"/><circle cx="1007.0" cy="372.6" r="4.45"/><circle cx="1014.9" cy="372.6" r="4.45"/><circle cx="1021.9" cy="372.6" r="4.45"/><circle cx="1028.1" cy="372.6" r="4.45"/><circle cx="1033.8" cy="372.6" r="4.45"/><circle cx="1040.3" cy="372.6" r="4.45"/><circle cx="1046.8" cy="372.6" r="4.45"/><circle cx="1052.0" cy="372.6" r="4.45"/><circle cx="1062.9" cy="372.6" r="4.45"/><circle cx="933.1" cy="421.6" r="4.45"/><circle cx="957.3" cy="421.6" r="4.45"/><circle cx="974.1" cy="421.6" r="4.45"/><circle cx="987.4" cy="421.6" r="4.45"/><circle cx="998.3" cy="421.6" r="4.45"/><circle cx="1008.0" cy="421.6" r="4.45"/><circle cx="1015.8" cy="421.6" r="4.45"/><circle cx="1022.7" cy="421.6" r="4.45"/><circle cx="1029.2" cy="421.6" r="4.45"/><circle cx="1033.6" cy="421.6" r="4.45"/><circle cx="1052.0" cy="421.6" r="4.45"/><circle cx="892.4" cy="470.6" r="4.45"/><circle cx="933.1" cy="470.6" r="4.45"/><circle cx="957.3" cy="470.6" r="4.45"/><circle cx="974.1" cy="470.6" r="4.45"/><circle cx="987.4" cy="470.6" r="4.45"/><circle cx="998.3" cy="470.6" r="4.45"/><circle cx="1007.4" cy="470.6" r="4.45"/></g>
<g fill="#a8252b"><circle cx="1125.0" cy="225.5" r="4.45"/><circle cx="1129.0" cy="225.5" r="4.45"/><circle cx="1135.5" cy="225.5" r="4.45"/><circle cx="1142.0" cy="225.5" r="4.45"/><circle cx="1148.5" cy="225.5" r="4.45"/><circle cx="1153.8" cy="225.5" r="4.45"/><circle cx="1157.8" cy="225.5" r="4.45"/><circle cx="1161.8" cy="225.5" r="4.45"/><circle cx="1168.2" cy="225.5" r="4.45"/><circle cx="1173.5" cy="225.5" r="4.45"/><circle cx="1178.8" cy="225.5" r="4.45"/><circle cx="1182.8" cy="225.5" r="4.45"/><circle cx="1189.2" cy="225.5" r="4.45"/><circle cx="1195.8" cy="225.5" r="4.45"/><circle cx="1201.0" cy="225.5" r="4.45"/><circle cx="1206.2" cy="225.5" r="4.45"/><circle cx="1210.2" cy="225.5" r="4.45"/><circle cx="1212.8" cy="225.5" r="4.45"/><circle cx="1242.4" cy="225.5" r="4.45"/><circle cx="1251.9" cy="225.5" r="4.45"/><circle cx="1278.5" cy="225.5" r="4.45"/><circle cx="1283.5" cy="225.5" r="4.45"/><circle cx="1104.0" cy="274.5" r="4.45"/><circle cx="1108.0" cy="274.5" r="4.45"/><circle cx="1114.5" cy="274.5" r="4.45"/><circle cx="1119.8" cy="274.5" r="4.45"/><circle cx="1125.0" cy="274.5" r="4.45"/><circle cx="1129.0" cy="274.5" r="4.45"/><circle cx="1135.5" cy="274.5" r="4.45"/><circle cx="1142.0" cy="274.5" r="4.45"/><circle cx="1148.5" cy="274.5" r="4.45"/><circle cx="1153.8" cy="274.5" r="4.45"/><circle cx="1157.8" cy="274.5" r="4.45"/><circle cx="1161.8" cy="274.5" r="4.45"/><circle cx="1162.7" cy="274.5" r="4.45"/><circle cx="1181.0" cy="274.5" r="4.45"/><circle cx="1188.0" cy="274.5" r="4.45"/><circle cx="1204.5" cy="274.5" r="4.45"/><circle cx="1216.7" cy="274.5" r="4.45"/><circle cx="1263.5" cy="274.5" r="4.45"/><circle cx="1096.5" cy="323.6" r="4.45"/><circle cx="1106.9" cy="323.6" r="4.45"/><circle cx="1118.6" cy="323.6" r="4.45"/><circle cx="1123.8" cy="323.6" r="4.45"/><circle cx="1129.1" cy="323.6" r="4.45"/><circle cx="1133.1" cy="323.6" r="4.45"/><circle cx="1139.6" cy="323.6" r="4.45"/><circle cx="1146.1" cy="323.6" r="4.45"/><circle cx="1147.8" cy="323.6" r="4.45"/><circle cx="1164.5" cy="323.6" r="4.45"/><circle cx="1172.2" cy="323.6" r="4.45"/><circle cx="1194.0" cy="323.6" r="4.45"/><circle cx="1082.0" cy="372.6" r="4.45"/><circle cx="1097.0" cy="372.6" r="4.45"/><circle cx="1102.0" cy="372.6" r="4.45"/><circle cx="1134.0" cy="372.6" r="4.45"/><circle cx="1140.0" cy="372.6" r="4.45"/><circle cx="1146.0" cy="372.6" r="4.45"/><circle cx="1148.0" cy="372.6" r="4.45"/><circle cx="1193.7" cy="372.6" r="4.45"/><circle cx="1246.5" cy="372.6" r="4.45"/><circle cx="1074.7" cy="421.6" r="4.45"/><circle cx="1136.5" cy="421.6" r="4.45"/><circle cx="1184.7" cy="421.6" r="4.45"/><circle cx="1324.8" cy="421.6" r="4.45"/><circle cx="1098.9" cy="470.6" r="4.45"/><circle cx="1131.1" cy="470.6" r="4.45"/></g>
<path d="M892.4,505.5 L933.1,491.1 L957.3,476.2 L973.7,461.7 L974.0,461.4 L974.1,461.3 L987.0,446.5 L987.3,446.1 L987.4,446.0 L997.7,431.5 L997.9,431.2 L998.0,431.0 L998.3,430.6 L1007.0,416.0 L1007.4,415.3 L1008.0,414.2 L1014.9,401.0 L1015.3,400.1 L1015.8,399.1 L1021.9,386.0 L1022.2,385.3 L1022.7,384.1 L1028.0,371.6 L1028.1,371.3 L1029.2,368.6 L1033.6,357.2 L1033.8,356.7 L1038.9,342.6 L1040.3,338.6 L1044.2,327.1 L1044.9,325.0 L1046.8,319.2 L1048.5,313.9 L1050.0,309.1 L1052.0,302.6 L1052.4,301.3 L1053.3,298.4 L1055.0,292.8 L1058.5,280.9 L1058.9,279.6 L1059.2,278.5 L1059.4,277.9 L1061.5,270.6 L1062.5,267.1 L1062.9,265.7 L1066.5,253.0 L1066.8,252.0 L1069.4,242.7 L1070.8,237.7 L1073.0,229.8 L1073.1,229.4 L1074.7,223.7 L1074.8,223.3 L1075.9,219.4 L1077.9,212.3 L1078.3,210.8 L1081.2,200.6 L1081.3,200.2 L1082.0,197.8 L1082.8,195.0 L1083.2,193.6 L1083.5,192.6 L1084.0,190.8 L1086.4,182.6 L1086.5,182.3 L1087.2,179.9 L1087.5,178.9 L1088.0,177.2 L1089.0,173.9 L1090.4,169.3 L1091.2,166.8 L1091.8,164.8 L1092.0,164.2 L1095.8,152.4 L1096.5,150.3 L1096.9,149.2 L1097.0,148.9 L1097.7,146.8 L1098.5,144.5 L1098.9,143.4 L1102.0,134.8 L1102.3,134.1 L1102.9,132.5 L1103.4,131.2 L1104.0,129.7 L1105.0,127.2 L1106.9,122.6 L1108.0,120.1 L1108.2,119.6 L1108.7,118.5 L1108.8,118.3 L1110.3,115.1 L1112.2,111.2 L1113.9,108.0 L1114.0,107.8 L1114.5,106.9 L1115.5,105.1 L1117.9,101.2 L1118.6,100.1 L1118.7,100.0 L1119.3,99.1 L1119.5,98.8 L1119.8,98.4 L1121.0,96.7 L1123.8,93.2 L1124.4,92.5 L1125.0,91.9 L1125.2,91.6 L1126.0,90.8 L1129.0,88.0 L1129.1,87.9 L1130.4,86.9 L1131.1,86.3 L1132.5,85.4 L1133.1,85.0 L1134.0,84.4 L1135.5,83.6 L1135.7,83.5 L1136.5,83.1 L1137.8,82.5 L1139.6,81.8 L1139.7,81.7 L1140.0,81.6 L1142.0,81.0 L1143.0,80.7 L1146.0,80.0 L1146.1,80.0 L1146.2,79.9 L1146.7,79.8 L1147.0,79.8 L1147.8,79.7 L1148.0,79.6 L1148.5,79.6 L1152.7,79.1 L1153.5,79.0 L1153.8,79.0 L1157.8,78.7 L1157.9,78.7 L1158.7,78.7 L1160.0,78.7 L1161.8,78.6 L1162.7,78.6 L1163.2,78.6 L1164.5,78.6 L1164.7,78.6 L1165.3,78.6 L1167.2,78.5 L1168.0,78.5 L1168.2,78.5 L1169.5,78.5 L1170.5,78.5 L1172.2,78.5 L1173.5,78.5 L1174.5,78.5 L1174.7,78.5 L1178.3,78.5 L1178.8,78.5 L1179.4,78.5 L1181.0,78.5 L1182.3,78.5 L1182.8,78.5 L1184.7,78.5 L1188.0,78.5 L1188.8,78.5 L1189.2,78.5 L1192.6,78.5 L1193.6,78.5 L1193.7,78.5 L1194.0,78.5 L1195.3,78.5 L1195.8,78.5 L1199.6,78.5 L1200.5,78.5 L1201.0,78.5 L1204.5,78.5 L1205.6,78.5 L1205.8,78.5 L1206.2,78.5 L1209.8,78.5 L1210.2,78.5 L1211.6,78.5 L1212.8,78.5 L1216.3,78.5 L1216.6,78.5 L1216.7,78.5 L1218.4,78.5 L1222.8,78.5 L1224.4,78.5 L1227.1,78.5 L1228.0,78.5 L1230.4,78.5 L1230.5,78.5 L1233.3,78.5 L1237.3,78.5 L1237.5,78.5 L1242.4,78.5 L1245.6,78.5 L1246.3,78.5 L1246.5,78.5 L1251.9,78.5 L1252.8,78.5 L1258.0,78.5 L1263.3,78.5 L1263.5,78.5 L1265.5,78.5 L1266.6,78.5 L1267.3,78.5 L1273.8,78.5 L1278.0,78.5 L1278.5,78.5 L1280.3,78.5 L1283.5,78.5 L1284.0,78.5 L1285.5,78.5 L1290.0,78.5 L1290.8,78.5 L1292.0,78.5 L1294.8,78.5 L1300.6,78.5 L1301.3,78.5 L1307.8,78.5 L1314.3,78.5 L1319.5,78.5 L1321.9,78.5 L1323.5,78.5 L1324.8,78.5 L1327.5,78.5 L1331.7,78.5 L1334.0,78.5 L1339.3,78.5 L1344.5,78.5 L1348.5,78.5 L1354.5,78.5 L1363.5,78.5 L1372.0,78.5 L1381.0,78.5 L1387.0,78.5 L1392.0,78.5 L1400.5,78.5 L1406.5,78.5 L1410.7,78.5" fill="none" stroke="#0d3aa6" stroke-width="3.0" stroke-linejoin="round"/>
<path d="M892.4,518.7 L933.1,516.2 L957.3,512.5 L973.7,507.9 L974.0,507.8 L974.1,507.8 L987.0,502.4 L987.3,502.2 L987.4,502.2 L997.7,496.1 L997.9,496.0 L998.0,495.9 L998.3,495.7 L1007.0,489.1 L1007.4,488.8 L1008.0,488.3 L1014.9,481.7 L1015.3,481.3 L1015.8,480.8 L1021.9,473.8 L1022.2,473.5 L1022.7,472.9 L1028.0,465.8 L1028.1,465.7 L1029.2,464.1 L1033.6,457.5 L1033.8,457.2 L1038.9,448.6 L1040.3,446.1 L1044.2,438.7 L1044.9,437.3 L1046.8,433.4 L1048.5,429.9 L1050.0,426.6 L1052.0,422.2 L1052.4,421.3 L1053.3,419.2 L1055.0,415.2 L1058.5,406.7 L1058.9,405.7 L1059.2,404.9 L1059.4,404.4 L1061.5,399.0 L1062.5,396.4 L1062.9,395.3 L1066.5,385.6 L1066.8,384.7 L1069.4,377.4 L1070.8,373.3 L1073.0,366.9 L1073.1,366.6 L1074.7,361.8 L1074.8,361.5 L1075.9,358.2 L1077.9,352.1 L1078.3,350.9 L1081.2,341.9 L1081.3,341.6 L1082.0,339.4 L1082.8,336.9 L1083.2,335.7 L1083.5,334.8 L1084.0,333.2 L1086.4,325.7 L1086.5,325.3 L1087.2,323.2 L1087.5,322.2 L1088.0,320.6 L1089.0,317.5 L1090.4,313.1 L1091.2,310.6 L1091.8,308.8 L1092.0,308.2 L1095.8,296.5 L1096.5,294.4 L1096.9,293.2 L1097.0,292.9 L1097.7,290.8 L1098.5,288.4 L1098.9,287.3 L1102.0,278.3 L1102.3,277.5 L1102.9,275.8 L1103.4,274.4 L1104.0,272.7 L1105.0,270.0 L1106.9,265.0 L1108.0,262.2 L1108.2,261.7 L1108.7,260.4 L1108.8,260.1 L1110.3,256.5 L1112.2,252.0 L1113.9,248.2 L1114.0,248.0 L1114.5,246.9 L1115.5,244.8 L1117.9,240.0 L1118.6,238.7 L1118.7,238.5 L1119.3,237.4 L1119.5,237.1 L1119.8,236.6 L1121.0,234.5 L1123.8,230.1 L1124.4,229.2 L1125.0,228.3 L1125.2,228.1 L1126.0,227.0 L1129.0,223.3 L1129.1,223.2 L1130.4,221.9 L1131.1,221.2 L1132.5,219.9 L1133.1,219.3 L1134.0,218.6 L1135.5,217.5 L1135.7,217.3 L1136.5,216.8 L1137.8,216.0 L1139.6,215.0 L1139.7,214.9 L1140.0,214.8 L1142.0,213.9 L1143.0,213.5 L1146.0,212.5 L1146.1,212.5 L1146.2,212.5 L1146.7,212.3 L1147.0,212.3 L1147.8,212.1 L1148.0,212.0 L1148.5,211.9 L1152.7,211.2 L1153.5,211.2 L1153.8,211.1 L1157.8,210.8 L1157.9,210.8 L1158.7,210.7 L1160.0,210.7 L1161.8,210.6 L1162.7,210.6 L1163.2,210.6 L1164.5,210.6 L1164.7,210.6 L1165.3,210.5 L1167.2,210.5 L1168.0,210.5 L1168.2,210.5 L1169.5,210.5 L1170.5,210.5 L1172.2,210.5 L1173.5,210.5 L1174.5,210.5 L1174.7,210.5 L1178.3,210.5 L1178.8,210.5 L1179.4,210.5 L1181.0,210.5 L1182.3,210.5 L1182.8,210.5 L1184.7,210.5 L1188.0,210.5 L1188.8,210.5 L1189.2,210.5 L1192.6,210.5 L1193.6,210.5 L1193.7,210.5 L1194.0,210.5 L1195.3,210.5 L1195.8,210.5 L1199.6,210.5 L1200.5,210.5 L1201.0,210.5 L1204.5,210.5 L1205.6,210.5 L1205.8,210.5 L1206.2,210.5 L1209.8,210.5 L1210.2,210.5 L1211.6,210.5 L1212.8,210.5 L1216.3,210.5 L1216.6,210.5 L1216.7,210.5 L1218.4,210.5 L1222.8,210.5 L1224.4,210.5 L1227.1,210.5 L1228.0,210.5 L1230.4,210.5 L1230.5,210.5 L1233.3,210.5 L1237.3,210.5 L1237.5,210.5 L1242.4,210.5 L1245.6,210.5 L1246.3,210.5 L1246.5,210.5 L1251.9,210.5 L1252.8,210.5 L1258.0,210.5 L1263.3,210.5 L1263.5,210.5 L1265.5,210.5 L1266.6,210.5 L1267.3,210.5 L1273.8,210.5 L1278.0,210.5 L1278.5,210.5 L1280.3,210.5 L1283.5,210.5 L1284.0,210.5 L1285.5,210.5 L1290.0,210.5 L1290.8,210.5 L1292.0,210.5 L1294.8,210.5 L1300.6,210.5 L1301.3,210.5 L1307.8,210.5 L1314.3,210.5 L1319.5,210.5 L1321.9,210.5 L1323.5,210.5 L1324.8,210.5 L1327.5,210.5 L1331.7,210.5 L1334.0,210.5 L1339.3,210.5 L1344.5,210.5 L1348.5,210.5 L1354.5,210.5 L1363.5,210.5 L1372.0,210.5 L1381.0,210.5 L1387.0,210.5 L1392.0,210.5 L1400.5,210.5 L1406.5,210.5 L1410.7,210.5" fill="none" stroke="#0d3aa6" stroke-width="3.0" stroke-dasharray="8.5 13" stroke-linecap="round"/>
<path d="M892.4,368.8 L933.1,351.1 L957.3,333.9 L973.7,318.2 L974.0,317.8 L974.1,317.7 L987.0,302.4 L987.3,302.1 L987.4,301.9 L997.7,287.6 L997.9,287.3 L998.0,287.1 L998.3,286.7 L1007.0,273.0 L1007.4,272.3 L1008.0,271.3 L1014.9,259.2 L1015.3,258.5 L1015.8,257.6 L1021.9,246.1 L1022.2,245.5 L1022.7,244.5 L1028.0,233.9 L1028.1,233.7 L1029.2,231.4 L1033.6,222.2 L1033.8,221.7 L1038.9,210.6 L1040.3,207.5 L1044.2,198.8 L1044.9,197.2 L1046.8,192.9 L1048.5,189.0 L1050.0,185.6 L1052.0,181.0 L1052.4,180.0 L1053.3,178.0 L1055.0,174.0 L1058.5,166.0 L1058.9,165.1 L1059.2,164.4 L1059.4,164.0 L1061.5,159.2 L1062.5,156.9 L1062.9,156.0 L1066.5,148.0 L1066.8,147.4 L1069.4,141.7 L1070.8,138.7 L1073.0,134.1 L1073.1,133.9 L1074.7,130.6 L1074.8,130.4 L1075.9,128.2 L1077.9,124.3 L1078.3,123.6 L1081.2,118.2 L1081.3,118.0 L1082.0,116.7 L1082.8,115.3 L1083.2,114.6 L1083.5,114.1 L1084.0,113.2 L1086.4,109.2 L1086.5,109.1 L1087.2,108.0 L1087.5,107.5 L1088.0,106.7 L1089.0,105.2 L1090.4,103.1 L1091.2,102.0 L1091.8,101.2 L1092.0,100.9 L1095.8,96.1 L1096.5,95.3 L1096.9,94.8 L1097.0,94.7 L1097.7,93.9 L1098.5,93.0 L1098.9,92.6 L1102.0,89.6 L1102.3,89.4 L1102.9,88.9 L1103.4,88.4 L1104.0,87.9 L1105.0,87.2 L1106.9,85.8 L1108.0,85.1 L1108.2,85.0 L1108.7,84.7 L1108.8,84.6 L1110.3,83.8 L1112.2,82.8 L1113.9,82.1 L1114.0,82.1 L1114.5,81.9 L1115.5,81.5 L1117.9,80.7 L1118.6,80.5 L1118.7,80.5 L1119.3,80.4 L1119.5,80.3 L1119.8,80.3 L1121.0,80.0 L1123.8,79.5 L1124.4,79.4 L1125.0,79.3 L1125.2,79.3 L1126.0,79.2 L1129.0,78.9 L1129.1,78.9 L1130.4,78.8 L1131.1,78.8 L1132.5,78.7 L1133.1,78.7 L1134.0,78.7 L1135.5,78.6 L1135.7,78.6 L1136.5,78.6 L1137.8,78.6 L1139.6,78.6 L1139.7,78.6 L1140.0,78.5 L1142.0,78.5 L1143.0,78.5 L1146.0,78.5 L1146.1,78.5 L1146.2,78.5 L1146.7,78.5 L1147.0,78.5 L1147.8,78.5 L1148.0,78.5 L1148.5,78.5 L1152.7,78.5 L1153.5,78.5 L1153.8,78.5 L1157.8,78.5 L1157.9,78.5 L1158.7,78.5 L1160.0,78.5 L1161.8,78.5 L1162.7,78.5 L1163.2,78.5 L1164.5,78.5 L1164.7,78.5 L1165.3,78.5 L1167.2,78.5 L1168.0,78.5 L1168.2,78.5 L1169.5,78.5 L1170.5,78.5 L1172.2,78.5 L1173.5,78.5 L1174.5,78.5 L1174.7,78.5 L1178.3,78.5 L1178.8,78.5 L1179.4,78.5 L1181.0,78.5 L1182.3,78.5 L1182.8,78.5 L1184.7,78.5 L1188.0,78.5 L1188.8,78.5 L1189.2,78.5 L1192.6,78.5 L1193.6,78.5 L1193.7,78.5 L1194.0,78.5 L1195.3,78.5 L1195.8,78.5 L1199.6,78.5 L1200.5,78.5 L1201.0,78.5 L1204.5,78.5 L1205.6,78.5 L1205.8,78.5 L1206.2,78.5 L1209.8,78.5 L1210.2,78.5 L1211.6,78.5 L1212.8,78.5 L1216.3,78.5 L1216.6,78.5 L1216.7,78.5 L1218.4,78.5 L1222.8,78.5 L1224.4,78.5 L1227.1,78.5 L1228.0,78.5 L1230.4,78.5 L1230.5,78.5 L1233.3,78.5 L1237.3,78.5 L1237.5,78.5 L1242.4,78.5 L1245.6,78.5 L1246.3,78.5 L1246.5,78.5 L1251.9,78.5 L1252.8,78.5 L1258.0,78.5 L1263.3,78.5 L1263.5,78.5 L1265.5,78.5 L1266.6,78.5 L1267.3,78.5 L1273.8,78.5 L1278.0,78.5 L1278.5,78.5 L1280.3,78.5 L1283.5,78.5 L1284.0,78.5 L1285.5,78.5 L1290.0,78.5 L1290.8,78.5 L1292.0,78.5 L1294.8,78.5 L1300.6,78.5 L1301.3,78.5 L1307.8,78.5 L1314.3,78.5 L1319.5,78.5 L1321.9,78.5 L1323.5,78.5 L1324.8,78.5 L1327.5,78.5 L1331.7,78.5 L1334.0,78.5 L1339.3,78.5 L1344.5,78.5 L1348.5,78.5 L1354.5,78.5 L1363.5,78.5 L1372.0,78.5 L1381.0,78.5 L1387.0,78.5 L1392.0,78.5 L1400.5,78.5 L1406.5,78.5 L1410.7,78.5" fill="none" stroke="#0d3aa6" stroke-width="3.0" stroke-dasharray="8.5 13" stroke-linecap="round"/>
<path d="M881.8,70 H1422.1 V519.6 H881.8 Z" fill="none" stroke="#151515" stroke-width="1.7"/>
<path d="M868.4,519.6 H881.8 M868.4,431.4 H881.8 M868.4,343.2 H881.8 M868.4,254.9 H881.8 M868.4,166.7 H881.8 M868.4,78.5 H881.8 M930.8,519.6 V532.6 M1066.8,519.6 V532.6 M1202.8,519.6 V532.6 M1338.8,519.6 V532.6 " stroke="#151515" stroke-width="1.7" fill="none"/>
<g font-family="Liberation Serif" font-weight="bold" fill="#000" stroke="#000" stroke-width="0.6">
<text x="109.8" y="42.7" font-size="55" >(A)</text>
<text x="117.1" y="102.5" font-size="36" >Rsqr= 0.768</text>
<text x="120.9" y="142.1" font-size="35.46" >Nm= 13086</text>
<text x="61.4" y="86.8" font-size="36" >1</text>
<text x="44.5" y="174.6" font-size="36" >0.8</text>
<text x="44.5" y="262.8" font-size="36" >0.6</text>
<text x="44.5" y="351.1" font-size="36" >0.4</text>
<text x="44.5" y="439.3" font-size="36" >0.2</text>
<text x="62.7" y="527.7" font-size="36" >0</text>
<text x="132.7" y="566" font-size="36" >−5</text>
<text x="260.6" y="566" font-size="36" >−4</text>
<text x="388.5" y="566" font-size="36" >−3</text>
<text x="516.4" y="566" font-size="36" >−2</text>
<text x="121.1" y="600" font-size="35.77" >Mean Relative Abundance (log10)</text>
<text transform="translate(30.6,467.3) rotate(-90)" font-size="35.9">Frequency of Occurence</text>
<text x="877.5" y="42.2" font-size="55" >(B)</text>
<text x="887.7" y="102.9" font-size="35.2" >Rsqr= 0.651</text>
<text x="890.9" y="134.4" font-size="35.28" >Nm= 9061</text>
<text x="832.9" y="86.5" font-size="36" >1</text>
<text x="816" y="174.9" font-size="36" >0.8</text>
<text x="816" y="263.1" font-size="36" >0.6</text>
<text x="816" y="351.4" font-size="36" >0.4</text>
<text x="816" y="439.6" font-size="36" >0.2</text>
<text x="834" y="527.1" font-size="36" >0</text>
<text x="906.5" y="566" font-size="36" >−5</text>
<text x="1042.5" y="566" font-size="36" >−4</text>
<text x="1178.5" y="566" font-size="36" >−3</text>
<text x="1314.5" y="566" font-size="36" >−2</text>
<text x="895.9" y="596.2" font-size="35.8" >Mean Relative Abundance (log10)</text>
<text transform="translate(802.2,459.6) rotate(-90)" font-size="35.68">Frequency of Occurence</text>
</g>
</svg>
</body></html>
